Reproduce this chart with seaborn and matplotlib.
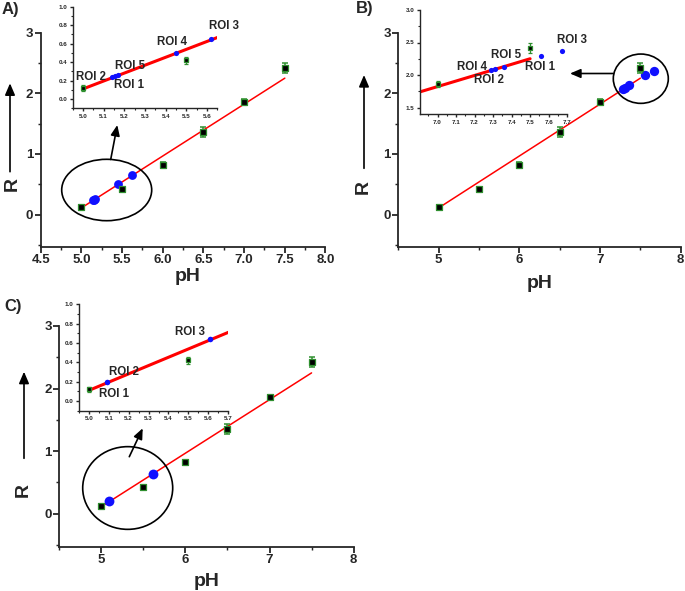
import numpy as np
import pandas as pd
import matplotlib
matplotlib.use("Agg")
import matplotlib.pyplot as plt
from matplotlib.ticker import MultipleLocator, FormatStrFormatter
from matplotlib.patches import Ellipse, FancyArrowPatch
import seaborn as sns

# ---------------- data ----------------
ph_std = [5.0, 5.5, 6.0, 6.5, 7.0, 7.5]
r_std = [0.12, 0.42, 0.82, 1.36, 1.86, 2.42]
r_err = [0.03, 0.04, 0.04, 0.08, 0.04, 0.08]

fit_ph = [5.0, 7.5]
fit_r = [0.11, 2.25]

roi_names_a = ["ROI 1", "ROI 2", "ROI 3", "ROI 4", "ROI 5"]
roi_a_ph = [5.155, 5.14, 5.62, 5.45, 5.17]
roi_a_r = [0.245, 0.235, 0.645, 0.50, 0.26]

roi_names_b = ["ROI 1", "ROI 2", "ROI 3", "ROI 4", "ROI 5"]
roi_b_ph = [7.56, 7.31, 7.67, 7.29, 7.36]
roi_b_r = [2.30, 2.09, 2.37, 2.07, 2.13]

# ROI 1 of panel C sits under the pH 5.0 standard and is not visible
roi_names_c = ["ROI 1", "ROI 2", "ROI 3"]
roi_c_ph = [5.09, 5.61]
roi_c_r = [0.20, 0.64]

# label anchor positions (inset data coordinates, left/center)
lab_a = {"ROI 1": (5.148, 0.155), "ROI 2": (4.968, 0.244), "ROI 3": (5.612, 0.79),
         "ROI 4": (5.356, 0.616), "ROI 5": (5.157, 0.36)}
lab_b = {"ROI 1": (7.471, 2.128), "ROI 2": (7.198, 1.923), "ROI 3": (7.646, 2.54),
         "ROI 4": (7.105, 2.119), "ROI 5": (7.289, 2.309)}
lab_c = {"ROI 1": (5.05, 0.07), "ROI 2": (5.101, 0.30), "ROI 3": (5.432, 0.71)}

# ---------------- style ----------------
sns.set_style("ticks")
plt.rcParams["font.family"] = ["Liberation Sans", "DejaVu Sans"]
plt.rcParams["font.weight"] = "bold"
plt.rcParams["axes.labelweight"] = "bold"

W, H = 685, 591
fig = plt.figure(figsize=(W / 100, H / 100), dpi=100)


def rect(l, t, r, b):
    return [l / W, 1 - b / H, (r - l) / W, (b - t) / H]


def fp(x, y):
    return (x / W, 1 - y / H)


GREEN = "#2f8f2f"
BLUE = "#1010ff"


def style(ax, xlim, ylim, xmaj, xmin, ymaj, ymin, xfmt, yfmt, fs, lw, ml, nl):
    ax.set_xlim(*xlim)
    ax.set_ylim(*ylim)
    sns.despine(ax=ax)
    ax.xaxis.set_major_locator(MultipleLocator(xmaj))
    ax.xaxis.set_minor_locator(MultipleLocator(xmin))
    ax.yaxis.set_major_locator(MultipleLocator(ymaj))
    ax.yaxis.set_minor_locator(MultipleLocator(ymin))
    ax.xaxis.set_major_formatter(FormatStrFormatter(xfmt))
    ax.yaxis.set_major_formatter(FormatStrFormatter(yfmt))
    for s in ("left", "bottom"):
        ax.spines[s].set_linewidth(lw)
    ax.tick_params(which="major", direction="out", length=ml, width=lw, labelsize=fs, pad=1.5)
    ax.tick_params(which="minor", direction="out", length=nl, width=lw * 0.8)
    ax.set_xlabel("")
    ax.set_ylabel("")
    ax.patch.set_alpha(0)


def draw(ax, roi_ph, roi_r, ss, bs, lw_line, elw, cap):
    sns.lineplot(x=fit_ph, y=fit_r, ax=ax, color="red", lw=lw_line, zorder=2)
    sns.scatterplot(x=roi_ph, y=roi_r, ax=ax, color=BLUE, s=bs, linewidth=0, zorder=3)
    ax.errorbar(ph_std, r_std, yerr=r_err, fmt="none", ecolor=GREEN, elinewidth=elw,
                capsize=cap, capthick=elw, zorder=4)
    sns.scatterplot(x=ph_std, y=r_std, ax=ax, marker="s", color="black", edgecolor=GREEN,
                    linewidth=0.9, s=ss, zorder=5)


# ---------- Panel A ----------
axA = fig.add_axes(rect(40.7, 32.7, 325.5, 246.7))
draw(axA, roi_a_ph, roi_a_r, 20, 40, 1.1, 1.1, 2.0)
style(axA, (4.5, 8.0), (-0.53, 3.0), 0.5, 0.25, 1, 0.5, "%.1f", "%d", 9.5, 1.3, 4, 2)

insA = fig.add_axes(rect(72.7, 6.7, 217.3, 108.3))
draw(insA, roi_a_ph, roi_a_r, 12, 14, 2.2, 0.9, 1.3)
style(insA, (4.95, 5.65), (-0.1, 1.0), 0.1, 0.05, 0.2, 0.1, "%.1f", "%.1f", 4.5, 1.0, 2.5, 1.5)
for name in roi_names_a:
    x, y = lab_a[name]
    insA.text(x, y, name, ha="left", va="center", fontsize=8.3, fontweight="bold")

# ---------- Panel B ----------
axB = fig.add_axes(rect(398.3, 32.7, 680.7, 246.7))
draw(axB, roi_b_ph, roi_b_r, 20, 45, 1.1, 1.1, 2.0)
style(axB, (4.5, 8.0), (-0.53, 3.0), 1, 0.5, 1, 0.5, "%d", "%d", 9.5, 1.3, 4, 2)

insB = fig.add_axes(rect(420, 10, 567.3, 114))
draw(insB, roi_b_ph, roi_b_r, 12, 14, 2.2, 0.9, 1.3)
style(insB, (6.905, 7.701), (1.4, 3.0), 0.1, 0.05, 0.5, 0.25, "%.1f", "%.1f", 4.5, 1.0, 2.5, 1.5)
for name in roi_names_b:
    x, y = lab_b[name]
    insB.text(x, y, name, ha="left", va="center", fontsize=8.3, fontweight="bold")

# ---------- Panel C ----------
axC = fig.add_axes(rect(59.3, 326, 353.6, 546.7))
draw(axC, roi_c_ph, roi_c_r, 20, 50, 1.1, 1.1, 2.0)
style(axC, (4.5, 8.0), (-0.53, 3.0), 1, 0.5, 1, 0.5, "%d", "%d", 9.5, 1.3, 4, 2)

insC = fig.add_axes(rect(79, 304.3, 228.3, 410.7))
draw(insC, roi_c_ph, roi_c_r, 12, 16, 2.2, 0.9, 1.3)
style(insC, (4.95, 5.701), (-0.1, 1.0), 0.1, 0.05, 0.2, 0.1, "%.1f", "%.1f", 4.5, 1.0, 2.5, 1.5)
for name in roi_names_c:
    x, y = lab_c[name]
    insC.text(x, y, name, ha="left", va="center", fontsize=8.3, fontweight="bold")

# ---------- annotations ----------
def ellipse(cx, cy, w, h):
    fig.add_artist(Ellipse(fp(cx, cy), w / W, h / H, transform=fig.transFigure,
                           fill=False, ec="black", lw=1.2))


def arrow(x0, y0, x1, y1, lw=1.2, ms=9):
    fig.add_artist(FancyArrowPatch(fp(x0, y0), fp(x1, y1), transform=fig.transFigure,
                                   arrowstyle="-|>,head_length=0.7,head_width=0.3",
                                   mutation_scale=ms, color="black", lw=lw,
                                   shrinkA=0, shrinkB=0))


ellipse(106.7, 190.0, 90.0, 61.4)
arrow(110.7, 159.5, 117.3, 125.0)
ellipse(640.8, 78.7, 55.0, 49.3)
arrow(613.3, 73.5, 570.0, 73.5)
ellipse(127.7, 488.0, 90.0, 82.7)
arrow(129.3, 456.7, 142.7, 428.3)

# R labels with arrows
for (rx, ry, ax_x, ay0, ay1) in [(12, 184, 10, 171.7, 83.3),
                                  (363, 187.5, 364, 168.3, 75.0),
                                  (23, 490, 24, 458.3, 371.7)]:
    fig.text(*fp(rx, ry), "R", rotation=90, ha="center", va="center",
             fontsize=14, fontweight="bold")
    arrow(ax_x, ay0, ax_x, ay1, lw=1.2, ms=10)

# pH labels
for (px, py) in [(188, 276), (539.3, 283.3), (206.7, 581.0)]:
    fig.text(*fp(px, py), "pH", ha="center", va="center", fontsize=14, fontweight="bold")

# panel letters
for (lx, ly, t) in [(2, 9.3, "A)"), (356, 8.7, "B)"), (4, 307, "C)")]:
    fig.text(*fp(lx, ly), t, ha="left", va="center", fontsize=12, fontweight="bold")

fig.savefig("out.png", dpi=100)
